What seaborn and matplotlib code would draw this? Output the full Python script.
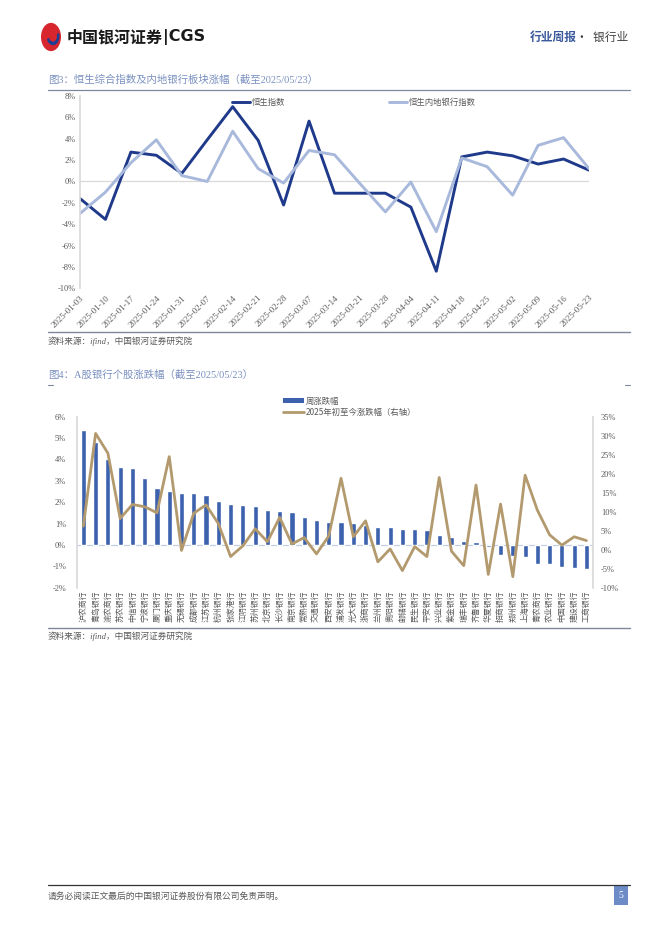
import matplotlib
matplotlib.use("Agg")
import matplotlib.pyplot as plt
from matplotlib.patches import Rectangle, Circle, Wedge, Patch
from matplotlib.lines import Line2D
import seaborn as sns
import numpy as np
import pandas as pd

# ---- data: figure 3 (weekly change of Hang Seng indices) ----
dates = ["2025-01-03", "2025-01-10", "2025-01-17", "2025-01-24", "2025-01-31",
         "2025-02-07", "2025-02-14", "2025-02-21", "2025-02-28", "2025-03-07",
         "2025-03-14", "2025-03-21", "2025-03-28", "2025-04-04", "2025-04-11",
         "2025-04-18", "2025-04-25", "2025-05-02", "2025-05-09", "2025-05-16",
         "2025-05-23"]
hsi = [-1.6, -3.55, 2.75, 2.45, 0.75, 3.9, 7.0, 3.85, -2.2, 5.65, -1.1,
       -1.1, -1.1, -2.4, -8.4, 2.3, 2.75, 2.4, 1.63, 2.1, 1.06]
hs_bank = [-3.0, -1.0, 1.75, 3.9, 0.55, 0.0, 4.7, 1.2, -0.15, 2.9, 2.5,
           -0.2, -2.85, -0.05, -4.7, 2.2, 1.38, -1.28, 3.38, 4.1, 1.2]

# ---- data: figure 4 (A-share bank stocks) ----
banks = ["沪农商行", "青岛银行", "渝农商行", "苏农银行", "中信银行", "宁波银行",
         "厦门银行", "重庆银行", "无锡银行", "成都银行", "江苏银行", "杭州银行",
         "张家港行", "江阴银行", "苏州银行", "北京银行", "长沙银行", "南京银行",
         "常熟银行", "交通银行", "西安银行", "浦发银行", "光大银行", "浙商银行",
         "兰州银行", "贵阳银行", "邮储银行", "民生银行", "平安银行", "兴业银行",
         "紫金银行", "瑞丰银行", "齐鲁银行", "华夏银行", "招商银行", "郑州银行",
         "上海银行", "青农商行", "农业银行", "中国银行", "建设银行", "工商银行"]
week_chg = [5.39, 4.8, 4.02, 3.66, 3.61, 3.11, 2.67, 2.52, 2.45, 2.41, 2.34,
            2.05, 1.92, 1.88, 1.8, 1.64, 1.59, 1.52, 1.3, 1.17, 1.08, 1.08,
            1.02, 0.91, 0.84, 0.84, 0.75, 0.73, 0.7, 0.48, 0.36, 0.19, 0.16,
            -0.09, -0.48, -0.5, -0.55, -0.87, -0.87, -1.05, -1.08, -1.11]
ytd_chg = [6.2, 30.6, 25.4, 8.2, 11.9, 11.3, 9.7, 24.5, -0.2, 9.6, 11.8, 6.9,
           -1.8, 1.0, 5.5, 2.1, 8.5, 1.5, 3.2, -1.1, 3.6, 18.8, 3.4, 7.6,
           -3.2, 0.2, -5.5, 0.8, -1.8, 19.0, -0.4, -4.2, 17.0, -6.5, 12.0,
           -7.1, 19.6, 10.4, 3.9, 1.2, 3.4, 2.4]

W, H = 662, 936
NAVY = "#1f3a8a"
LIGHT = "#a8b9dc"
BAR = "#3c62ad"
TAN = "#b39a6e"
GRAY = "#595959"
AXIS = "#d9d9d9"


def fx(x):
    return x / W


def fy(y):
    return 1 - y / H


def add_axes(fig, left, top, right, bottom):
    return fig.add_axes([fx(left), fy(bottom), (right - left) / W, (bottom - top) / H])


sns.set_theme(style="white")
plt.rcParams["font.family"] = ["Liberation Serif", "Noto Sans CJK SC", "DejaVu Sans"]
plt.rcParams["axes.unicode_minus"] = False
CJK = ["Noto Sans CJK SC", "DejaVu Sans"]

fig = plt.figure(figsize=(W / 100, H / 100), dpi=100)
fig.patch.set_facecolor("white")

# ---- page header ----
fig.patches.append(Circle((fx(51), fy(37)), 10 / W, transform=fig.transFigure,
                          facecolor="#d7262e", edgecolor="none"))
fig.patches.append(Wedge((fx(53), fy(36)), 6.5 / W, 200, 20, width=2.5 / W,
                         transform=fig.transFigure, facecolor="#1c3f94", edgecolor="none"))
fig.text(fx(67), fy(37), "中国银河证券", family=CJK, fontsize=11.5, fontweight="bold",
         color="#1a1a1a", va="center")
fig.text(fx(163), fy(37), "|CGS", family=["DejaVu Sans"], fontsize=11.5, fontweight="bold",
         color="#1a1a1a", va="center")
fig.text(fx(530), fy(37), "行业周报", family=CJK, fontsize=8.5, color="#3a5a9c",
         va="center", fontweight="bold")
fig.text(fx(576), fy(37), "·  银行业", family=CJK, fontsize=8.5, color="#404040", va="center")

# ---- figure 3 ----
fig.text(fx(48), fy(80), "图3：恒生综合指数及内地银行板块涨幅（截至2025/05/23）",
         fontsize=7.5, color="#7a90c0", va="center")
fig.add_artist(Line2D([fx(48), fx(630)], [fy(90), fy(90)], color="#7d889c", lw=0.9))

ax1 = add_axes(fig, 80, 96, 589, 288.3)
idx = np.arange(len(dates))
sns.lineplot(x=idx, y=hsi, ax=ax1, color=NAVY, linewidth=2.1, label="恒生指数")
sns.lineplot(x=idx, y=hs_bank, ax=ax1, color=LIGHT, linewidth=2.1, label="恒生内地银行指数")
ax1.set_xlim(0, len(dates) - 1)
ax1.set_ylim(-10, 8)
ax1.set_yticks(np.arange(-10, 9, 2))
ax1.set_yticklabels([f"{v}%" for v in range(-10, 9, 2)])
ax1.set_xticks(idx)
ax1.set_xticklabels(dates, rotation=45, ha="right", rotation_mode="anchor")
ax1.axhline(0, color=AXIS, lw=0.9, zorder=0)
ax1.tick_params(axis="y", length=0, labelsize=6, colors=GRAY, pad=3)
ax1.tick_params(axis="x", length=0, labelsize=6.4, colors=GRAY, pad=4)
for s in ["top", "right", "bottom"]:
    ax1.spines[s].set_visible(False)
ax1.spines["left"].set_color(AXIS)
ax1.set_facecolor("none")
leg1 = ax1.legend(loc="upper left", bbox_to_anchor=((224 - 80) / 509, 1.03), ncol=2,
                  frameon=False, handlelength=2.2, handletextpad=0.2,
                  columnspacing=12.5, prop={"family": CJK, "size": 6})
for t in leg1.get_texts():
    t.set_color(GRAY)

fig.add_artist(Line2D([fx(48), fx(630)], [fy(332), fy(332)], color="#7d889c", lw=1.0))
fig.text(fx(48), fy(341), "资料来源：ifind，中国银河证券研究院", fontsize=6.2,
         color=GRAY, va="center", style="italic")

# ---- figure 4 ----
fig.text(fx(48), fy(375), "图4：A股银行个股涨跌幅（截至2025/05/23）",
         fontsize=7.5, color="#7a90c0", va="center")
fig.add_artist(Line2D([fx(48), fx(53)], [fy(385), fy(385)], color="#7d889c", lw=0.8))
fig.add_artist(Line2D([fx(625), fx(630)], [fy(385), fy(385)], color="#7d889c", lw=0.8))

ax2 = add_axes(fig, 77.2, 416.7, 592.6, 587.7)
df = pd.DataFrame({"bank": banks, "week": week_chg, "ytd": ytd_chg})
sns.barplot(data=df, x="bank", y="week", ax=ax2, color=BAR, width=0.42, saturation=1)
ax2.set_xlim(-0.5, len(banks) - 0.5)
ax2.set_ylim(-2, 6)
ax2.set_yticks(range(-2, 7))
ax2.set_yticklabels([f"{v}%" for v in range(-2, 7)])
ax2.axhline(0, color="#c3cde3", lw=0.9, zorder=0)
ax2.set_xlabel("")
ax2.set_ylabel("")
ax2.set_xticks(range(len(banks)))
ax2.set_xticklabels(banks, rotation=90, family=CJK)
ax2.tick_params(axis="x", length=0, labelsize=5.7, colors=GRAY, pad=2)
ax2.tick_params(axis="y", length=0, labelsize=6, colors=GRAY, pad=8)
for s in ["top", "right", "bottom"]:
    ax2.spines[s].set_visible(False)
ax2.spines["left"].set_color(AXIS)

ax2r = ax2.twinx()
sns.lineplot(data=df, x=np.arange(len(banks)), y="ytd", ax=ax2r, color=TAN, linewidth=2.0)
ax2r.set_ylim(-10, 35)
ax2r.set_yticks(range(-10, 36, 5))
ax2r.set_yticklabels([f"{v}%" for v in range(-10, 36, 5)])
ax2r.set_ylabel("")
ax2r.tick_params(axis="y", length=0, labelsize=6, colors=GRAY, pad=6)
for s in ["top", "left", "bottom"]:
    ax2r.spines[s].set_visible(False)
ax2r.spines["right"].set_color(AXIS)

handles = [Patch(facecolor=BAR, edgecolor="none"), Line2D([], [], color=TAN, lw=2.0)]
leg2 = fig.legend(handles, ["周涨跌幅", "2025年初至今涨跌幅（右轴）"], loc="upper left",
                  bbox_to_anchor=(fx(275), fy(389)), frameon=False,
                  handlelength=2.6, handleheight=0.6, handletextpad=0.2, labelspacing=0.25,
                  prop={"family": CJK, "size": 6})
for t in leg2.get_texts():
    t.set_color(GRAY)

fig.add_artist(Line2D([fx(48), fx(630)], [fy(628), fy(628)], color="#7d889c", lw=1.0))
fig.text(fx(48), fy(636), "资料来源：ifind，中国银河证券研究院", fontsize=6.2,
         color=GRAY, va="center", style="italic")

# ---- footer ----
fig.add_artist(Line2D([fx(48), fx(630)], [fy(885), fy(885)], color="#333333", lw=0.9))
fig.text(fx(48), fy(896), "请务必阅读正文最后的中国银河证券股份有限公司免责声明。",
         family=CJK, fontsize=6.3, color=GRAY, va="center")
fig.patches.append(Rectangle((fx(614), fy(905)), 14 / W, 19 / H, transform=fig.transFigure,
                             facecolor="#6d8cc7", edgecolor="none"))
fig.text(fx(621), fy(895.5), "5", fontsize=7, color="white", ha="center", va="center")

fig.savefig("out.png", dpi=100, facecolor="white")
